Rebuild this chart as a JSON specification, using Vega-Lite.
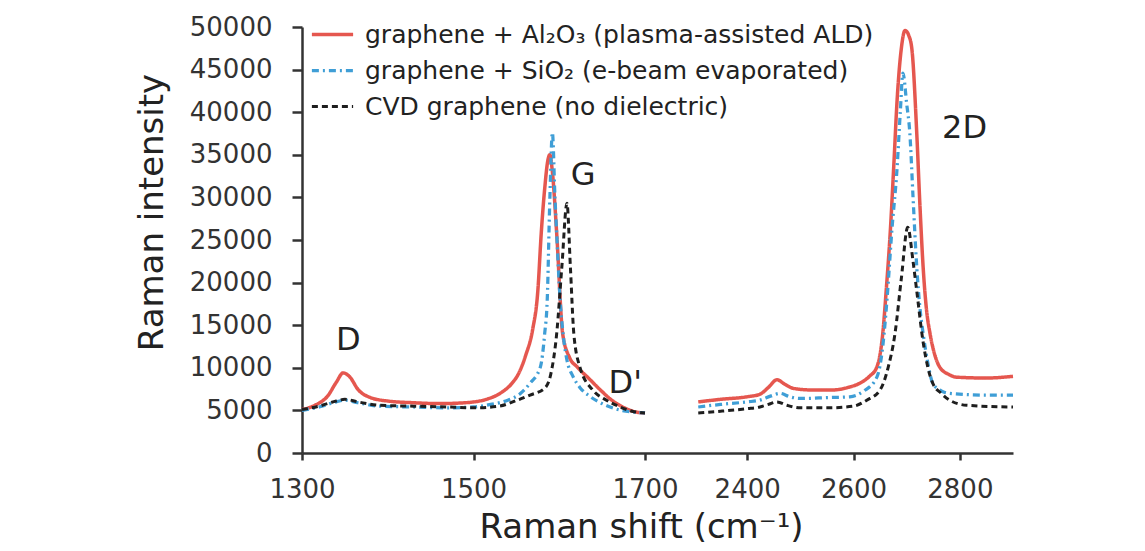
{
  "$schema": "https://vega.github.io/schema/vega-lite/v6.json",
  "width": 711,
  "height": 426,
  "autosize": "none",
  "padding": {"left": 302, "top": 27, "right": 132, "bottom": 98},
  "background": "white",
  "config": {"view": {"stroke": null}, "font": "DejaVu Sans"},
  "datasets": {
    "spectra": [
      {"sample": "Al2O3", "segment": "Al2O3-low", "shift": 1300, "intensity": 5100},
      {"sample": "Al2O3", "segment": "Al2O3-low", "shift": 1315, "intensity": 5600},
      {"sample": "Al2O3", "segment": "Al2O3-low", "shift": 1330, "intensity": 6700},
      {"sample": "Al2O3", "segment": "Al2O3-low", "shift": 1340, "intensity": 8300},
      {"sample": "Al2O3", "segment": "Al2O3-low", "shift": 1348, "intensity": 9400},
      {"sample": "Al2O3", "segment": "Al2O3-low", "shift": 1356, "intensity": 8900},
      {"sample": "Al2O3", "segment": "Al2O3-low", "shift": 1365, "intensity": 7500},
      {"sample": "Al2O3", "segment": "Al2O3-low", "shift": 1380, "intensity": 6500},
      {"sample": "Al2O3", "segment": "Al2O3-low", "shift": 1400, "intensity": 6100},
      {"sample": "Al2O3", "segment": "Al2O3-low", "shift": 1430, "intensity": 5900},
      {"sample": "Al2O3", "segment": "Al2O3-low", "shift": 1460, "intensity": 5800},
      {"sample": "Al2O3", "segment": "Al2O3-low", "shift": 1490, "intensity": 5900},
      {"sample": "Al2O3", "segment": "Al2O3-low", "shift": 1515, "intensity": 6300},
      {"sample": "Al2O3", "segment": "Al2O3-low", "shift": 1531, "intensity": 7000},
      {"sample": "Al2O3", "segment": "Al2O3-low", "shift": 1545, "intensity": 8200},
      {"sample": "Al2O3", "segment": "Al2O3-low", "shift": 1553, "intensity": 9400},
      {"sample": "Al2O3", "segment": "Al2O3-low", "shift": 1561, "intensity": 11500},
      {"sample": "Al2O3", "segment": "Al2O3-low", "shift": 1569, "intensity": 14500},
      {"sample": "Al2O3", "segment": "Al2O3-low", "shift": 1575, "intensity": 19000},
      {"sample": "Al2O3", "segment": "Al2O3-low", "shift": 1579, "intensity": 25800},
      {"sample": "Al2O3", "segment": "Al2O3-low", "shift": 1583, "intensity": 31000},
      {"sample": "Al2O3", "segment": "Al2O3-low", "shift": 1587, "intensity": 34500},
      {"sample": "Al2O3", "segment": "Al2O3-low", "shift": 1589, "intensity": 35000},
      {"sample": "Al2O3", "segment": "Al2O3-low", "shift": 1592, "intensity": 33000},
      {"sample": "Al2O3", "segment": "Al2O3-low", "shift": 1597, "intensity": 25800},
      {"sample": "Al2O3", "segment": "Al2O3-low", "shift": 1604, "intensity": 14000},
      {"sample": "Al2O3", "segment": "Al2O3-low", "shift": 1612, "intensity": 11200},
      {"sample": "Al2O3", "segment": "Al2O3-low", "shift": 1621, "intensity": 10100},
      {"sample": "Al2O3", "segment": "Al2O3-low", "shift": 1635, "intensity": 8700},
      {"sample": "Al2O3", "segment": "Al2O3-low", "shift": 1648, "intensity": 7400},
      {"sample": "Al2O3", "segment": "Al2O3-low", "shift": 1660, "intensity": 6300},
      {"sample": "Al2O3", "segment": "Al2O3-low", "shift": 1674, "intensity": 5400},
      {"sample": "Al2O3", "segment": "Al2O3-low", "shift": 1690, "intensity": 4800},
      {"sample": "Al2O3", "segment": "Al2O3-low", "shift": 1700, "intensity": 4700},
      {"sample": "Al2O3", "segment": "Al2O3-high", "shift": 2308, "intensity": 6000},
      {"sample": "Al2O3", "segment": "Al2O3-high", "shift": 2350, "intensity": 6300},
      {"sample": "Al2O3", "segment": "Al2O3-high", "shift": 2400, "intensity": 6600},
      {"sample": "Al2O3", "segment": "Al2O3-high", "shift": 2424, "intensity": 6900},
      {"sample": "Al2O3", "segment": "Al2O3-high", "shift": 2440, "intensity": 7700},
      {"sample": "Al2O3", "segment": "Al2O3-high", "shift": 2456, "intensity": 8600},
      {"sample": "Al2O3", "segment": "Al2O3-high", "shift": 2470, "intensity": 8100},
      {"sample": "Al2O3", "segment": "Al2O3-high", "shift": 2486, "intensity": 7600},
      {"sample": "Al2O3", "segment": "Al2O3-high", "shift": 2520, "intensity": 7400},
      {"sample": "Al2O3", "segment": "Al2O3-high", "shift": 2561, "intensity": 7400},
      {"sample": "Al2O3", "segment": "Al2O3-high", "shift": 2590, "intensity": 7700},
      {"sample": "Al2O3", "segment": "Al2O3-high", "shift": 2612, "intensity": 8200},
      {"sample": "Al2O3", "segment": "Al2O3-high", "shift": 2630, "intensity": 9000},
      {"sample": "Al2O3", "segment": "Al2O3-high", "shift": 2644, "intensity": 10100},
      {"sample": "Al2O3", "segment": "Al2O3-high", "shift": 2655, "intensity": 14000},
      {"sample": "Al2O3", "segment": "Al2O3-high", "shift": 2662, "intensity": 19500},
      {"sample": "Al2O3", "segment": "Al2O3-high", "shift": 2669, "intensity": 25800},
      {"sample": "Al2O3", "segment": "Al2O3-high", "shift": 2676, "intensity": 34000},
      {"sample": "Al2O3", "segment": "Al2O3-high", "shift": 2682, "intensity": 41400},
      {"sample": "Al2O3", "segment": "Al2O3-high", "shift": 2690, "intensity": 47500},
      {"sample": "Al2O3", "segment": "Al2O3-high", "shift": 2697, "intensity": 49600},
      {"sample": "Al2O3", "segment": "Al2O3-high", "shift": 2704, "intensity": 49000},
      {"sample": "Al2O3", "segment": "Al2O3-high", "shift": 2710, "intensity": 47300},
      {"sample": "Al2O3", "segment": "Al2O3-high", "shift": 2719, "intensity": 37500},
      {"sample": "Al2O3", "segment": "Al2O3-high", "shift": 2725, "intensity": 29000},
      {"sample": "Al2O3", "segment": "Al2O3-high", "shift": 2731, "intensity": 21800},
      {"sample": "Al2O3", "segment": "Al2O3-high", "shift": 2737, "intensity": 17000},
      {"sample": "Al2O3", "segment": "Al2O3-high", "shift": 2744, "intensity": 14000},
      {"sample": "Al2O3", "segment": "Al2O3-high", "shift": 2753, "intensity": 11500},
      {"sample": "Al2O3", "segment": "Al2O3-high", "shift": 2762, "intensity": 10100},
      {"sample": "Al2O3", "segment": "Al2O3-high", "shift": 2780, "intensity": 9200},
      {"sample": "Al2O3", "segment": "Al2O3-high", "shift": 2794, "intensity": 8900},
      {"sample": "Al2O3", "segment": "Al2O3-high", "shift": 2850, "intensity": 8800},
      {"sample": "Al2O3", "segment": "Al2O3-high", "shift": 2900, "intensity": 9000},

      {"sample": "SiO2", "segment": "SiO2-low", "shift": 1300, "intensity": 5000},
      {"sample": "SiO2", "segment": "SiO2-low", "shift": 1320, "intensity": 5400},
      {"sample": "SiO2", "segment": "SiO2-low", "shift": 1340, "intensity": 6000},
      {"sample": "SiO2", "segment": "SiO2-low", "shift": 1350, "intensity": 6200},
      {"sample": "SiO2", "segment": "SiO2-low", "shift": 1365, "intensity": 5900},
      {"sample": "SiO2", "segment": "SiO2-low", "shift": 1390, "intensity": 5500},
      {"sample": "SiO2", "segment": "SiO2-low", "shift": 1430, "intensity": 5400},
      {"sample": "SiO2", "segment": "SiO2-low", "shift": 1470, "intensity": 5300},
      {"sample": "SiO2", "segment": "SiO2-low", "shift": 1500, "intensity": 5400},
      {"sample": "SiO2", "segment": "SiO2-low", "shift": 1520, "intensity": 5700},
      {"sample": "SiO2", "segment": "SiO2-low", "shift": 1540, "intensity": 6200},
      {"sample": "SiO2", "segment": "SiO2-low", "shift": 1555, "intensity": 7000},
      {"sample": "SiO2", "segment": "SiO2-low", "shift": 1566, "intensity": 8200},
      {"sample": "SiO2", "segment": "SiO2-low", "shift": 1578, "intensity": 10100},
      {"sample": "SiO2", "segment": "SiO2-low", "shift": 1583, "intensity": 14000},
      {"sample": "SiO2", "segment": "SiO2-low", "shift": 1586, "intensity": 18000},
      {"sample": "SiO2", "segment": "SiO2-low", "shift": 1589, "intensity": 29700},
      {"sample": "SiO2", "segment": "SiO2-low", "shift": 1592, "intensity": 37600},
      {"sample": "SiO2", "segment": "SiO2-low", "shift": 1595, "intensity": 30000},
      {"sample": "SiO2", "segment": "SiO2-low", "shift": 1597, "intensity": 25800},
      {"sample": "SiO2", "segment": "SiO2-low", "shift": 1601, "intensity": 18000},
      {"sample": "SiO2", "segment": "SiO2-low", "shift": 1605, "intensity": 13500},
      {"sample": "SiO2", "segment": "SiO2-low", "shift": 1609, "intensity": 10900},
      {"sample": "SiO2", "segment": "SiO2-low", "shift": 1616, "intensity": 9000},
      {"sample": "SiO2", "segment": "SiO2-low", "shift": 1624, "intensity": 7700},
      {"sample": "SiO2", "segment": "SiO2-low", "shift": 1635, "intensity": 6700},
      {"sample": "SiO2", "segment": "SiO2-low", "shift": 1648, "intensity": 5900},
      {"sample": "SiO2", "segment": "SiO2-low", "shift": 1665, "intensity": 5200},
      {"sample": "SiO2", "segment": "SiO2-low", "shift": 1685, "intensity": 4800},
      {"sample": "SiO2", "segment": "SiO2-low", "shift": 1700, "intensity": 4700},
      {"sample": "SiO2", "segment": "SiO2-high", "shift": 2308, "intensity": 5400},
      {"sample": "SiO2", "segment": "SiO2-high", "shift": 2350, "intensity": 5700},
      {"sample": "SiO2", "segment": "SiO2-high", "shift": 2400, "intensity": 6000},
      {"sample": "SiO2", "segment": "SiO2-high", "shift": 2424, "intensity": 6200},
      {"sample": "SiO2", "segment": "SiO2-high", "shift": 2445, "intensity": 6700},
      {"sample": "SiO2", "segment": "SiO2-high", "shift": 2462, "intensity": 7000},
      {"sample": "SiO2", "segment": "SiO2-high", "shift": 2480, "intensity": 6600},
      {"sample": "SiO2", "segment": "SiO2-high", "shift": 2500, "intensity": 6400},
      {"sample": "SiO2", "segment": "SiO2-high", "shift": 2550, "intensity": 6500},
      {"sample": "SiO2", "segment": "SiO2-high", "shift": 2593, "intensity": 6600},
      {"sample": "SiO2", "segment": "SiO2-high", "shift": 2620, "intensity": 7300},
      {"sample": "SiO2", "segment": "SiO2-high", "shift": 2644, "intensity": 8900},
      {"sample": "SiO2", "segment": "SiO2-high", "shift": 2655, "intensity": 12500},
      {"sample": "SiO2", "segment": "SiO2-high", "shift": 2663, "intensity": 18000},
      {"sample": "SiO2", "segment": "SiO2-high", "shift": 2672, "intensity": 26000},
      {"sample": "SiO2", "segment": "SiO2-high", "shift": 2682, "intensity": 33500},
      {"sample": "SiO2", "segment": "SiO2-high", "shift": 2688, "intensity": 40000},
      {"sample": "SiO2", "segment": "SiO2-high", "shift": 2693, "intensity": 44600},
      {"sample": "SiO2", "segment": "SiO2-high", "shift": 2700, "intensity": 41000},
      {"sample": "SiO2", "segment": "SiO2-high", "shift": 2706, "intensity": 37500},
      {"sample": "SiO2", "segment": "SiO2-high", "shift": 2712, "intensity": 30000},
      {"sample": "SiO2", "segment": "SiO2-high", "shift": 2719, "intensity": 21800},
      {"sample": "SiO2", "segment": "SiO2-high", "shift": 2725, "intensity": 17000},
      {"sample": "SiO2", "segment": "SiO2-high", "shift": 2731, "intensity": 14000},
      {"sample": "SiO2", "segment": "SiO2-high", "shift": 2740, "intensity": 10500},
      {"sample": "SiO2", "segment": "SiO2-high", "shift": 2749, "intensity": 8200},
      {"sample": "SiO2", "segment": "SiO2-high", "shift": 2765, "intensity": 7300},
      {"sample": "SiO2", "segment": "SiO2-high", "shift": 2781, "intensity": 7000},
      {"sample": "SiO2", "segment": "SiO2-high", "shift": 2850, "intensity": 6800},
      {"sample": "SiO2", "segment": "SiO2-high", "shift": 2900, "intensity": 6800},

      {"sample": "none", "segment": "none-low", "shift": 1300, "intensity": 5100},
      {"sample": "none", "segment": "none-low", "shift": 1320, "intensity": 5500},
      {"sample": "none", "segment": "none-low", "shift": 1340, "intensity": 6100},
      {"sample": "none", "segment": "none-low", "shift": 1350, "intensity": 6300},
      {"sample": "none", "segment": "none-low", "shift": 1365, "intensity": 6000},
      {"sample": "none", "segment": "none-low", "shift": 1390, "intensity": 5600},
      {"sample": "none", "segment": "none-low", "shift": 1430, "intensity": 5500},
      {"sample": "none", "segment": "none-low", "shift": 1470, "intensity": 5400},
      {"sample": "none", "segment": "none-low", "shift": 1500, "intensity": 5300},
      {"sample": "none", "segment": "none-low", "shift": 1530, "intensity": 5500},
      {"sample": "none", "segment": "none-low", "shift": 1551, "intensity": 6200},
      {"sample": "none", "segment": "none-low", "shift": 1566, "intensity": 6800},
      {"sample": "none", "segment": "none-low", "shift": 1583, "intensity": 7600},
      {"sample": "none", "segment": "none-low", "shift": 1590, "intensity": 9200},
      {"sample": "none", "segment": "none-low", "shift": 1597, "intensity": 14000},
      {"sample": "none", "segment": "none-low", "shift": 1603, "intensity": 21800},
      {"sample": "none", "segment": "none-low", "shift": 1609, "intensity": 29300},
      {"sample": "none", "segment": "none-low", "shift": 1613, "intensity": 21800},
      {"sample": "none", "segment": "none-low", "shift": 1617, "intensity": 14000},
      {"sample": "none", "segment": "none-low", "shift": 1624, "intensity": 10100},
      {"sample": "none", "segment": "none-low", "shift": 1639, "intensity": 7400},
      {"sample": "none", "segment": "none-low", "shift": 1655, "intensity": 6200},
      {"sample": "none", "segment": "none-low", "shift": 1671, "intensity": 5400},
      {"sample": "none", "segment": "none-low", "shift": 1685, "intensity": 4900},
      {"sample": "none", "segment": "none-low", "shift": 1700, "intensity": 4700},
      {"sample": "none", "segment": "none-high", "shift": 2308, "intensity": 4700},
      {"sample": "none", "segment": "none-high", "shift": 2350, "intensity": 4900},
      {"sample": "none", "segment": "none-high", "shift": 2400, "intensity": 5200},
      {"sample": "none", "segment": "none-high", "shift": 2424, "intensity": 5400},
      {"sample": "none", "segment": "none-high", "shift": 2440, "intensity": 5700},
      {"sample": "none", "segment": "none-high", "shift": 2456, "intensity": 6000},
      {"sample": "none", "segment": "none-high", "shift": 2475, "intensity": 5600},
      {"sample": "none", "segment": "none-high", "shift": 2500, "intensity": 5300},
      {"sample": "none", "segment": "none-high", "shift": 2550, "intensity": 5300},
      {"sample": "none", "segment": "none-high", "shift": 2600, "intensity": 5500},
      {"sample": "none", "segment": "none-high", "shift": 2625, "intensity": 6200},
      {"sample": "none", "segment": "none-high", "shift": 2650, "intensity": 7400},
      {"sample": "none", "segment": "none-high", "shift": 2665, "intensity": 10000},
      {"sample": "none", "segment": "none-high", "shift": 2678, "intensity": 14000},
      {"sample": "none", "segment": "none-high", "shift": 2690, "intensity": 20500},
      {"sample": "none", "segment": "none-high", "shift": 2702, "intensity": 26500},
      {"sample": "none", "segment": "none-high", "shift": 2712, "intensity": 22500},
      {"sample": "none", "segment": "none-high", "shift": 2719, "intensity": 19000},
      {"sample": "none", "segment": "none-high", "shift": 2731, "intensity": 13000},
      {"sample": "none", "segment": "none-high", "shift": 2740, "intensity": 10000},
      {"sample": "none", "segment": "none-high", "shift": 2749, "intensity": 8200},
      {"sample": "none", "segment": "none-high", "shift": 2765, "intensity": 7000},
      {"sample": "none", "segment": "none-high", "shift": 2781, "intensity": 6200},
      {"sample": "none", "segment": "none-high", "shift": 2813, "intensity": 5600},
      {"sample": "none", "segment": "none-high", "shift": 2900, "intensity": 5400}
    ],
    "peaks": [
      {"label": "D", "shift": 1354, "intensity": 13300},
      {"label": "G", "shift": 1628, "intensity": 32600},
      {"label": "D'", "shift": 1677, "intensity": 8200},
      {"label": "2D", "shift": 2809, "intensity": 38100}
    ]
  },
  "layer": [
    {
      "data": {"name": "spectra"},
      "mark": {"type": "line", "interpolate": "monotone"},
      "encoding": {
        "x": {
          "field": "shift",
          "type": "quantitative",
          "scale": {"domain": [1300, 1700, 2300, 2900], "range": [0, 343, 392, 711], "nice": false, "zero": false},
          "axis": {
            "values": [1300, 1500, 1700, 2400, 2600, 2800],
            "format": "d",
            "grid": false,
            "labelFont": "DejaVu Sans",
            "labelFontSize": 26,
            "labelColor": "#333333",
            "labelPadding": 16,
            "labelFlush": false,
            "tickSize": 7,
            "tickWidth": 2.5,
            "tickColor": "#333333",
            "domainWidth": 2.5,
            "domainColor": "#333333",
            "title": "Raman shift (cm⁻¹)",
            "titleFont": "DejaVu Sans",
            "titleFontSize": 34,
            "titleFontWeight": "normal",
            "titleColor": "#222222",
            "titleX": 339,
            "titleY": 74,
            "titleAlign": "center",
            "titleBaseline": "middle"
          }
        },
        "y": {
          "field": "intensity",
          "type": "quantitative",
          "scale": {"domain": [0, 50000], "nice": false},
          "axis": {
            "values": [0, 5000, 10000, 15000, 20000, 25000, 30000, 35000, 40000, 45000, 50000],
            "format": "d",
            "grid": false,
            "labelFont": "DejaVu Sans",
            "labelFontSize": 26,
            "labelColor": "#333333",
            "labelPadding": 20,
            "labelFlush": false,
            "tickSize": 10,
            "tickWidth": 2.5,
            "tickColor": "#333333",
            "domainWidth": 2.5,
            "domainColor": "#333333",
            "title": "Raman intensity",
            "titleFont": "DejaVu Sans",
            "titleFontSize": 34,
            "titleFontWeight": "normal",
            "titleColor": "#222222",
            "titleAngle": -90,
            "titleX": -150,
            "titleY": 185,
            "titleAlign": "center",
            "titleBaseline": "middle"
          }
        },
        "color": {
          "field": "sample",
          "type": "nominal",
          "scale": {"domain": ["Al2O3", "SiO2", "none"], "range": ["#e5574f", "#3f9ed6", "#1e1e1e"]},
          "legend": {
            "orient": "none",
            "legendX": 8,
            "legendY": -15,
            "title": null,
            "symbolType": "stroke",
            "symbolSize": 1700,
            "symbolStrokeWidth": 3,
            "labelFont": "DejaVu Sans",
            "labelFontSize": 25,
            "labelColor": "#222222",
            "labelOffset": 10,
            "labelLimit": 0,
            "rowPadding": 0,
            "labelExpr": "datum.value == 'Al2O3' ? 'graphene + Al₂O₃ (plasma-assisted ALD)' : datum.value == 'SiO2' ? 'graphene + SiO₂ (e-beam evaporated)' : 'CVD graphene (no dielectric)'"
          }
        },
        "strokeDash": {
          "field": "sample",
          "type": "nominal",
          "scale": {"domain": ["Al2O3", "SiO2", "none"], "range": [[1, 0], [7, 4, 2, 4], [6, 4]]},
          "legend": {
            "orient": "none",
            "legendX": 8,
            "legendY": -15,
            "title": null,
            "symbolType": "stroke",
            "symbolSize": 1700,
            "symbolStrokeWidth": 3,
            "labelFont": "DejaVu Sans",
            "labelFontSize": 25,
            "labelColor": "#222222",
            "labelOffset": 10,
            "labelLimit": 0,
            "rowPadding": 0,
            "labelExpr": "datum.value == 'Al2O3' ? 'graphene + Al₂O₃ (plasma-assisted ALD)' : datum.value == 'SiO2' ? 'graphene + SiO₂ (e-beam evaporated)' : 'CVD graphene (no dielectric)'"
          }
        },
        "strokeWidth": {
          "field": "sample",
          "type": "nominal",
          "scale": {"domain": ["Al2O3", "SiO2", "none"], "range": [3.5, 3, 2.6]},
          "legend": null
        },
        "detail": {"field": "segment", "type": "nominal"}
      }
    },
    {
      "data": {"name": "peaks"},
      "mark": {"type": "text", "font": "DejaVu Sans", "fontSize": 32, "color": "#222222", "align": "center", "baseline": "middle"},
      "encoding": {
        "x": {"field": "shift", "type": "quantitative"},
        "y": {"field": "intensity", "type": "quantitative"},
        "text": {"field": "label", "type": "nominal"}
      }
    }
  ]
}
